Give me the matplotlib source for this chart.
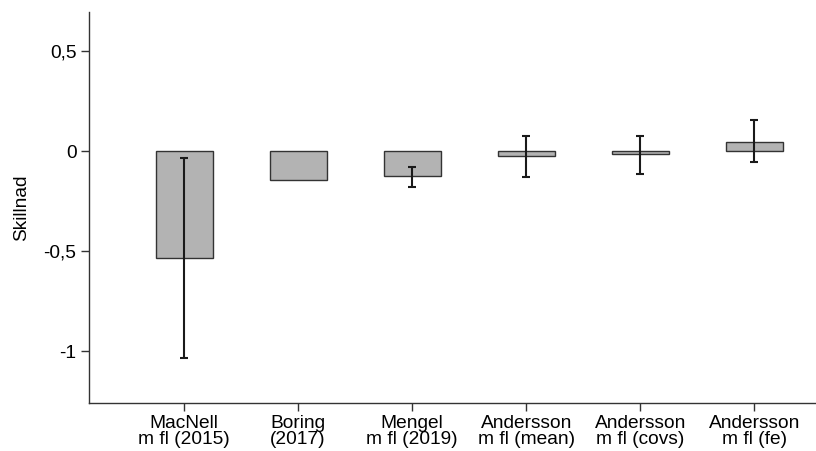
import numpy as np
import matplotlib
matplotlib.use('Agg')
import matplotlib.pyplot as plt
from matplotlib.ticker import FuncFormatter

plt.rcParams['font.family'] = ['Liberation Sans', 'DejaVu Sans']

labels = ['MacNell\nm fl (2015)', 'Boring\n(2017)', 'Mengel\nm fl (2019)',
          'Andersson\nm fl (mean)', 'Andersson\nm fl (covs)', 'Andersson\nm fl (fe)']
diff = [-0.535, -0.145, -0.125, -0.025, -0.015, 0.045]
ci_center = [-0.537, np.nan, -0.128, -0.026, -0.018, 0.048]
ci_half = [0.50, np.nan, 0.05, 0.102, 0.095, 0.105]

fig = plt.figure(figsize=(8.16, 4.51), dpi=100)
ax = fig.add_axes([89/816, 48/451, 727/816, 391/451])

x = np.arange(len(labels))
ax.bar(x, diff, width=0.5, color='#b3b3b3', edgecolor='#333333', linewidth=1.0, zorder=2)

ax.errorbar(x, ci_center, yerr=ci_half, fmt='none', ecolor='#1a1a1a',
            elinewidth=1.5, capsize=3, capthick=1.5, zorder=3)

ax.set_xlim(-0.833, 5.54)
ax.set_ylim(-1.26, 0.695)
ax.set_yticks([-1, -0.5, 0, 0.5])
ax.yaxis.set_major_formatter(FuncFormatter(lambda v, p: ('%g' % v).replace('.', ',')))
ax.set_xticks(x)
ax.set_xticklabels(labels, fontsize=13.8, linespacing=0.92)
ax.tick_params(axis='y', labelsize=13.8)
ax.tick_params(length=6, width=1, color='#333333', pad=3)
ax.set_ylabel('Skillnad', fontsize=13.8, labelpad=10)

for s in ['top', 'right']:
    ax.spines[s].set_visible(False)
for s in ['left', 'bottom']:
    ax.spines[s].set_color('#333333')
    ax.spines[s].set_linewidth(1)

plt.savefig('out.png', dpi=100)
